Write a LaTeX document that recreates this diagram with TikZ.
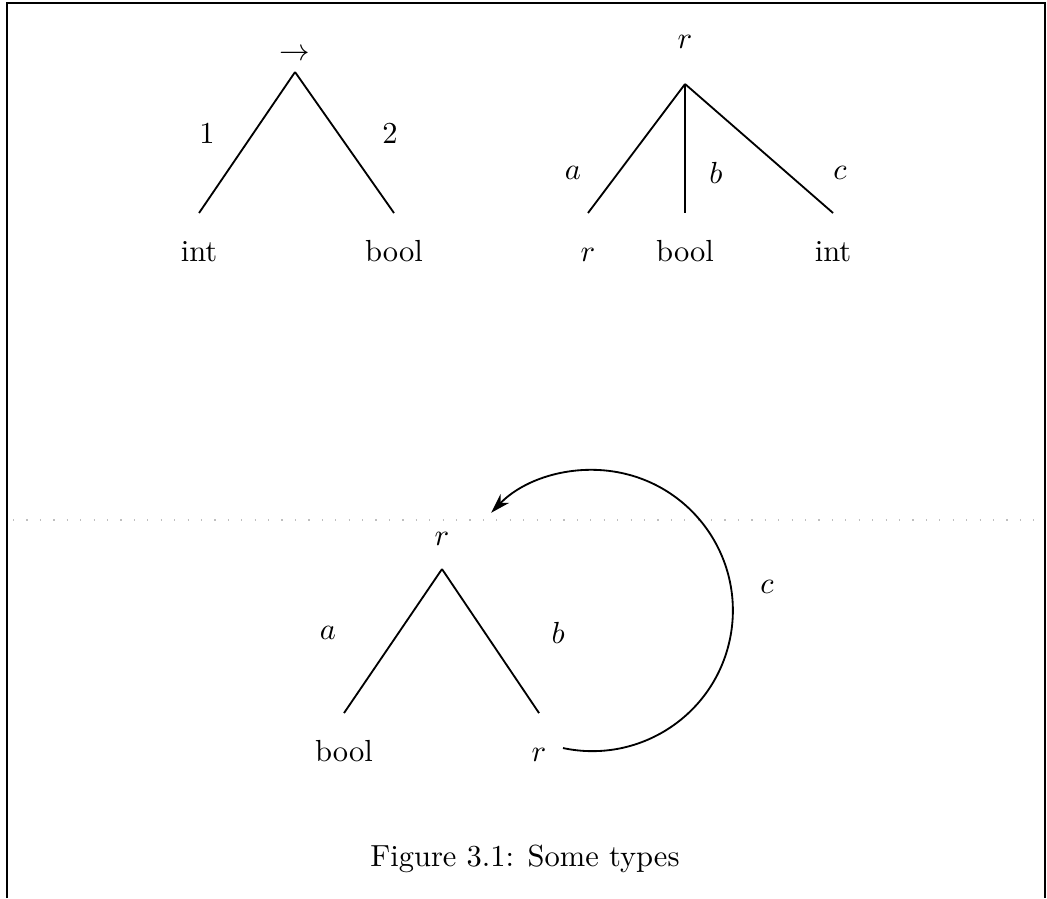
\documentclass[tikz,border=0pt]{standalone}
\usepackage{amsmath}
\usepackage{amssymb}
\usetikzlibrary{positioning, arrows.meta}

\begin{document}
\begin{tikzpicture}[line width=.6pt,
    lbl/.style={inner sep=0pt, text height=1.5ex, text depth=.25ex}]

    \useasboundingbox (0,0) rectangle (12.062,10.346);

    % ==========================================
    % FRAME (bottom edge is cut off)
    % ==========================================
    \coordinate (F_bl) at (0.081,0);
    \coordinate (F_tl) at (0.081,10.311);
    \coordinate (F_tr) at (12.039,10.311);
    \coordinate (F_br) at (12.039,0);
    \draw (F_bl) -- (F_tl) -- (F_tr) -- (F_br);

    % faint dotted trace across the page
    \draw[gray!50, line width=.4pt, dash pattern=on .4pt off 4pt] (0.15,4.355) -- (12.0,4.355);

    % ==========================================
    % TREE 1: FUNCTION TYPE (TOP LEFT)
    % ==========================================
    \coordinate (A1) at (3.399,9.516); % apex
    \coordinate (L1) at (2.293,7.892); % left end
    \coordinate (R1) at (4.539,7.892); % right end

    \node[lbl, above=0.09cm of A1] (arrow1) {$\rightarrow$};
    \node[lbl, below=0.32cm of L1] (int1) {int};
    \node[lbl, below=0.32cm of R1] (bool1) {bool};

    \draw (A1) -- (L1);
    \draw (A1) -- (R1);

    % edge labels
    \node (one) at (2.385,8.813) {1};
    \node (two) at (4.493,8.813) {2};

    % ==========================================
    % TREE 2: RECORD TYPE (TOP RIGHT)
    % ==========================================
    \coordinate (A2) at (7.892,9.378);
    \coordinate (L2) at (6.774,7.892);
    \coordinate (M2) at (7.892,7.892);
    \coordinate (R2) at (9.597,7.892);

    \node[lbl, above=0.36cm of A2] (r2) {$r$};
    \node[lbl, below=0.32cm of L2] (r2a) {$r$};
    \node[lbl, below=0.32cm of M2] (bool2) {bool};
    \node[lbl, below=0.32cm of R2] (int2) {int};

    \draw (A2) -- (L2);
    \draw (A2) -- (M2);
    \draw (A2) -- (R2);

    \node (a2) at (6.601,8.353) {$a$};
    \node (b2) at (8.249,8.353) {$b$};
    \node (c2) at (9.677,8.353) {$c$};

    % ==========================================
    % TREE 3: RECURSIVE TYPE (BOTTOM)
    % ==========================================
    \coordinate (A3) at (5.092,3.790);
    \coordinate (L3) at (3.963,2.131);
    \coordinate (R3) at (6.210,2.131);

    \node[lbl, above=0.22cm of A3] (r3) {$r$};
    \node[lbl, below=0.32cm of L3] (bool3) {bool};
    \node[lbl, below=0.32cm of R3] (r3b) {$r$};

    \draw (A3) -- (L3);
    \draw (A3) -- (R3);

    \node (a3) at (3.779,3.053) {$a$};
    \node (b3) at (6.429,3.053) {$b$};

    % back edge c: from the leaf r round to the root r
    \coordinate (loop) at (6.486,1.728);
    \draw[-{Stealth[length=6.5pt, width=4pt, inset=2pt]}] (loop) arc[start angle=-102, end angle=136, radius=1.62];
    \node (c3) at (8.836,3.583) {$c$};

    % ==========================================
    % CAPTION
    % ==========================================
    \node[anchor=base] (caption) at (6.048,0.36) {Figure 3.1: Some types};
\end{tikzpicture}
\end{document}
